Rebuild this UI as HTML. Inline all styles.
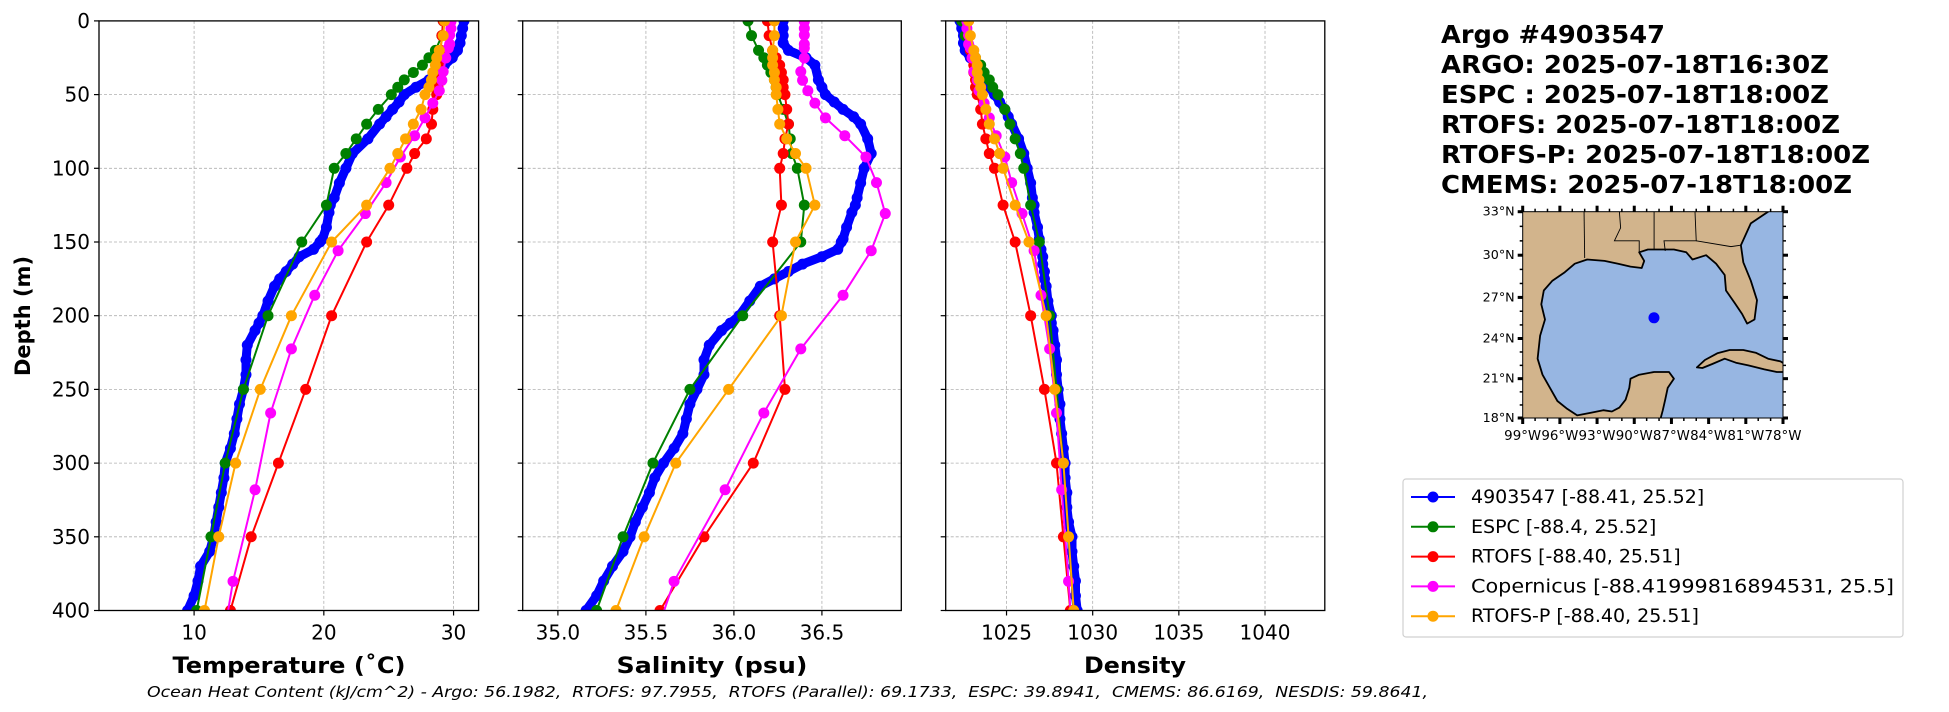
<!DOCTYPE html>
<html><head><meta charset="utf-8"><style>
html,body{margin:0;padding:0;background:#fff}
svg{display:block;font-family:"DejaVu Sans","Liberation Sans",sans-serif}
</style></head><body>
<svg id="fig" width="1949" height="712" viewBox="0 0 1949 712" xmlns="http://www.w3.org/2000/svg">
<rect width="1949" height="712" fill="#fff"/>
<g id="plots"></g>
<text x="23" y="316" font-size="21" font-weight="bold" text-anchor="middle" dominant-baseline="central" transform="rotate(-90 23 316)">Depth (m)</text>
<text x="289" y="673" font-size="22" font-weight="bold" text-anchor="middle" textLength="233" lengthAdjust="spacingAndGlyphs">Temperature (˚C)</text>
<text x="712" y="673" font-size="22" font-weight="bold" text-anchor="middle" textLength="191" lengthAdjust="spacingAndGlyphs">Salinity (psu)</text>
<text x="1135" y="673" font-size="22" font-weight="bold" text-anchor="middle" textLength="102" lengthAdjust="spacingAndGlyphs">Density</text>
<text x="147" y="697" font-size="15" font-style="italic" style="white-space:pre" textLength="1281" lengthAdjust="spacingAndGlyphs">Ocean Heat Content (kJ/cm^2) - Argo: 56.1982,  RTOFS: 97.7955,  RTOFS (Parallel): 69.1733,  ESPC: 39.8941,  CMEMS: 86.6169,  NESDIS: 59.8641,</text>
<g font-size="25" font-weight="bold">
<text x="1441" y="43" textLength="224" lengthAdjust="spacingAndGlyphs">Argo #4903547</text>
<text x="1441" y="73" textLength="388" lengthAdjust="spacingAndGlyphs">ARGO: 2025-07-18T16:30Z</text>
<text x="1441" y="103" textLength="388" lengthAdjust="spacingAndGlyphs" style="white-space:pre">ESPC : 2025-07-18T18:00Z</text>
<text x="1441" y="133" textLength="399" lengthAdjust="spacingAndGlyphs">RTOFS: 2025-07-18T18:00Z</text>
<text x="1441" y="163" textLength="429" lengthAdjust="spacingAndGlyphs">RTOFS-P: 2025-07-18T18:00Z</text>
<text x="1441" y="193" textLength="411" lengthAdjust="spacingAndGlyphs">CMEMS: 2025-07-18T18:00Z</text>
</g>
<g id="map"></g>
<g id="legend"></g>
</svg>
<script>
// ---------- data ----------
const depthTicks=[0,50,100,150,200,250,300,350,400];
const hycomDepths=[0,10,20,25,30,35,40,45,50,60,70,80,90,100,125,150,200,250,300,350,400];
const copDepths=[0.5,5.1,9.6,15.8,18.5,25.2,34.4,40.3,47.4,55.8,65.8,77.9,92.3,109.7,130.7,155.9,186.1,222.5,266.0,318.1,380.2,453.9];
const argoDepths=[0,5,10,15,20,25,30,40,45,50,55,60,65,70,80,90,100,110,120,125,130,140,148,150,155,160,165,170,175,180,190,200,205,210,220,230,240,250,260,270,280,290,300,310,320,330,340,350,360,370,380,390,400];
// Temperature
const argoTemp=[30.8,30.7,30.6,30.5,30.3,29.9,29.3,28.1,27.1,26.2,25.8,25.3,24.8,24.3,23.4,22.2,21.7,21.2,20.8,20.5,20.4,20.2,19.9,19.7,19.2,18.1,17.6,17.1,16.6,16.2,15.7,15.3,15.0,14.7,14.1,14.0,14.0,13.8,13.5,13.3,13.1,12.8,12.4,12.3,12.1,11.9,11.7,11.5,11.2,10.5,10.3,10.0,9.5];
const espcTemp=[29.2,29.1,28.6,28.1,27.6,26.9,26.2,25.7,25.2,24.2,23.3,22.5,21.7,20.8,20.2,18.3,15.7,13.8,12.4,11.3,10.2];
const rtofsTemp=[29.2,29.1,29.0,29.0,28.9,28.9,28.8,28.8,28.7,28.4,28.3,27.9,27.0,26.4,25.0,23.3,20.6,18.6,16.5,14.4,12.8];
const rtofspTemp=[29.3,29.2,28.9,28.7,28.6,28.4,28.3,28.1,27.8,27.5,26.9,26.3,25.7,25.1,23.3,20.6,17.5,15.1,13.2,11.9,10.8];
const copTemp=[29.8,29.8,29.7,29.7,29.6,29.4,29.2,29.1,28.9,28.4,27.8,27.0,25.9,24.8,23.2,21.1,19.3,17.5,15.9,14.7,13.0,11.6];
// Salinity
const argoSal=[36.28,36.28,36.28,36.28,36.31,36.41,36.46,36.48,36.50,36.52,36.57,36.62,36.68,36.72,36.76,36.78,36.74,36.72,36.70,36.69,36.67,36.64,36.62,36.61,36.59,36.50,36.39,36.31,36.23,36.15,36.09,36.03,35.98,35.93,35.86,35.83,35.83,35.79,35.75,35.73,35.71,35.66,35.60,35.55,35.52,35.48,35.44,35.41,35.37,35.31,35.26,35.22,35.16];
const espcSal=[36.08,36.10,36.14,36.17,36.19,36.21,36.23,36.24,36.25,36.28,36.31,36.32,36.33,36.36,36.40,36.38,36.05,35.75,35.54,35.37,35.22];
const rtofsSal=[36.19,36.20,36.22,36.24,36.26,36.27,36.28,36.28,36.29,36.30,36.31,36.29,36.28,36.26,36.27,36.22,36.26,36.29,36.11,35.83,35.58];
const rtofspSal=[36.23,36.23,36.22,36.22,36.22,36.23,36.23,36.24,36.24,36.25,36.26,36.30,36.35,36.41,36.46,36.35,36.27,35.97,35.67,35.49,35.33];
const copSal=[36.40,36.40,36.40,36.40,36.40,36.40,36.38,36.39,36.42,36.46,36.52,36.63,36.75,36.81,36.86,36.78,36.62,36.38,36.17,35.95,35.66,35.45];
// Density
const argoDen=[1022.3,1022.4,1022.5,1022.5,1022.6,1022.9,1023.3,1023.7,1024.0,1024.3,1024.6,1024.9,1025.1,1025.3,1025.7,1026.0,1026.2,1026.4,1026.5,1026.6,1026.6,1026.8,1026.9,1026.9,1027.0,1027.1,1027.1,1027.2,1027.2,1027.3,1027.4,1027.6,1027.6,1027.7,1027.8,1027.9,1027.9,1028.0,1028.1,1028.1,1028.2,1028.3,1028.4,1028.4,1028.5,1028.5,1028.6,1028.8,1028.8,1028.9,1029.0,1029.0,1029.1];
const espcDen=[1022.4,1022.6,1022.9,1023.2,1023.5,1023.7,1024.0,1024.2,1024.5,1024.9,1025.2,1025.5,1025.8,1026.0,1026.4,1026.9,1027.5,1027.9,1028.3,1028.6,1028.9];
const rtofsDen=[1022.8,1022.8,1022.9,1023.0,1023.1,1023.1,1023.2,1023.2,1023.3,1023.5,1023.6,1023.8,1024.0,1024.3,1024.8,1025.5,1026.4,1027.2,1027.9,1028.3,1028.7];
const rtofspDen=[1022.8,1022.9,1023.1,1023.2,1023.3,1023.3,1023.4,1023.5,1023.6,1023.8,1024.0,1024.3,1024.6,1024.8,1025.5,1026.3,1027.3,1027.8,1028.3,1028.6,1028.9];
const copDen=[1022.7,1022.7,1022.8,1022.8,1022.9,1023.0,1023.1,1023.3,1023.4,1023.7,1024.0,1024.4,1024.9,1025.3,1025.9,1026.6,1027.0,1027.5,1027.9,1028.2,1028.6,1029.0];
const tempTicks=[10,20,30];
const salTicks=[35.0,35.5,36.0,36.5];
const salTickLabels=["35.0","35.5","36.0","36.5"];
const denTicks=[1025,1030,1035,1040];
const legendLabels=["4903547 [-88.41, 25.52]","ESPC [-88.4, 25.52]","RTOFS [-88.40, 25.51]","Copernicus [-88.41999816894531, 25.5]","RTOFS-P [-88.40, 25.51]"];
const floatLon=-88.41, floatLat=25.52;

// ---------- drawing ----------
const NS="http://www.w3.org/2000/svg";
function mk(tag,attrs,parent){const e=document.createElementNS(NS,tag);for(const k in attrs)e.setAttribute(k,attrs[k]);parent.appendChild(e);return e;}
const TOP=20.9,BOT=610.5;
const yScale=d=>TOP+(d/400)*(BOT-TOP);
const plots=document.getElementById('plots');
const colors={argo:'#0000ff',espc:'#008000',rtofs:'#ff0000',cop:'#ff00ff',rtofsp:'#ffa500'};

function drawPanel(name,x0,x1,vmin,vmax,ticks,tickLabels,series,showY){
  const xs=v=>x0+(v-vmin)/(vmax-vmin)*(x1-x0);
  const g=mk('g',{},plots);
  
  
  const cid='clip-'+name;
  const cp=mk('clipPath',{id:cid},g);mk('rect',{x:x0,y:TOP,width:x1-x0,height:BOT-TOP},cp);
  depthTicks.forEach(d=>{const l=mk('line',{x1:x0,x2:x1,y1:yScale(d),y2:yScale(d),stroke:'#b0b0b0','stroke-width':0.8,'stroke-dasharray':'3,2'},g);
    });
  ticks.forEach(t=>{const l=mk('line',{x1:xs(t),x2:xs(t),y1:TOP,y2:BOT,stroke:'#b0b0b0','stroke-width':0.8,'stroke-dasharray':'3,2'},g);
    });
  const sg=mk('g',{'clip-path':'url(#'+cid+')'},g);
  series.forEach(s=>{
    const pts=s.depths.map((d,i)=>xs(s.vals[i]).toFixed(1)+','+yScale(d).toFixed(1)).join(' ');
    const pl=mk('polyline',{points:pts,fill:'none',stroke:s.color,'stroke-width':s.thick?9:2,'stroke-linejoin':'round','stroke-linecap':'round'},sg);
    
    
    s.depths.forEach((d,i)=>{const c=mk('circle',{cx:xs(s.vals[i]),cy:yScale(d),r:5.5,fill:s.color},sg);
      
      });
  });
  const fr=mk('rect',{x:x0,y:TOP,width:x1-x0,height:BOT-TOP,fill:'none',stroke:'#000','stroke-width':1.3},g);
  
  depthTicks.forEach(d=>{mk('line',{x1:x0-5,x2:x0,y1:yScale(d),y2:yScale(d),stroke:'#000','stroke-width':1.2},g);
    if(showY){const t=mk('text',{x:x0-9,y:yScale(d),'font-size':20,'text-anchor':'end','dominant-baseline':'central'},g);t.textContent=d;
      }});
  ticks.forEach((tv,i)=>{mk('line',{x1:xs(tv),x2:xs(tv),y1:BOT,y2:BOT+5,stroke:'#000','stroke-width':1.2},g);
    const t=mk('text',{x:xs(tv),y:BOT+29,'font-size':20,'text-anchor':'middle'},g);t.textContent=tickLabels[i];
    });
}
function ser(a,e,r,c,p){return [
  {key:'argo',depths:argoDepths,vals:a,color:colors.argo,thick:true},
  {key:'espc',depths:hycomDepths,vals:e,color:colors.espc},
  {key:'rtofs',depths:hycomDepths,vals:r,color:colors.rtofs},
  {key:'copernicus',depths:copDepths,vals:c,color:colors.cop},
  {key:'rtofsp',depths:hycomDepths,vals:p,color:colors.rtofsp}];}
drawPanel('temperature',99,478.6,2.67,31.93,tempTicks,tempTicks.map(String),ser(argoTemp,espcTemp,rtofsTemp,copTemp,rtofspTemp),true);
drawPanel('salinity',522.7,901.3,34.80,36.951,salTicks,salTickLabels,ser(argoSal,espcSal,rtofsSal,copSal,rtofspSal),false);
drawPanel('density',945.7,1324.8,1021.47,1043.47,denTicks,denTicks.map(String),ser(argoDen,espcDen,rtofsDen,copDen,rtofspDen),false);

// ---------- map ----------
const map=document.getElementById('map');
const MX0=1522.7,MX1=1783,MY0=211.7,MY1=418;
const merc=l=>Math.log(Math.tan(Math.PI/4+l*Math.PI/360));
const mx=lon=>MX0+(lon+99)/21*(MX1-MX0);
const my=lat=>MY1-(merc(lat)-merc(18))/(merc(33)-merc(18))*(MY1-MY0);
const mcp=mk('clipPath',{id:'mapclip'},map);mk('rect',{x:MX0,y:MY0,width:MX1-MX0,height:MY1-MY0},mcp);
const ocean=mk('rect',{x:MX0,y:MY0,width:MX1-MX0,height:MY1-MY0,fill:'#97b6e2'},map);

const mg=mk('g',{'clip-path':'url(#mapclip)'},map);
const landPolys={
 'map-land-north-america':[[-100,34],[-79.2,34],[-79.2,33],[-80.6,32.2],[-81.4,30.7],[-81.2,29.5],[-80.6,28.2],[-80.1,26.8],[-80.3,25.4],[-80.9,25.1],[-81.3,25.8],[-81.9,26.6],[-82.6,27.5],[-82.7,28.6],[-83.4,29.4],[-84.2,30.0],[-85.3,29.7],[-85.8,30.2],[-86.8,30.4],[-88.1,30.4],[-88.9,30.4],[-89.6,30.2],[-89.2,29.6],[-89.4,29.1],[-90.3,29.2],[-91.3,29.4],[-92.4,29.6],[-93.8,29.7],[-94.8,29.4],[-95.6,28.8],[-96.6,28.2],[-97.3,27.5],[-97.5,26.5],[-97.2,25.4],[-97.6,24.2],[-97.8,22.5],[-97.4,21.3],[-96.8,20.3],[-96.2,19.3],[-95.4,18.7],[-94.6,18.2],[-93.5,18.4],[-92.5,18.6],[-91.8,18.5],[-91.2,18.8],[-90.7,19.4],[-90.4,20.3],[-90.3,21.0],[-89.6,21.3],[-88.4,21.5],[-87.2,21.5],[-86.8,21.0],[-87.3,20.3],[-87.5,19.4],[-87.7,18.6],[-88.0,17.5],[-100,17.5]],
 'map-land-cuba':[[-84.95,21.85],[-84.3,22.4],[-83.3,22.9],[-82.3,23.15],[-81.2,23.15],[-80.2,22.95],[-79.2,22.5],[-78.2,22.3],[-77.5,21.9],[-77.5,21.5],[-78.5,21.5],[-79.5,21.7],[-80.8,22.0],[-81.8,22.2],[-82.7,22.5],[-83.7,22.1],[-84.5,21.8]]
};
for(const k in landPolys){
  const p=mk('polygon',{points:landPolys[k].map(q=>mx(q[0]).toFixed(1)+','+my(q[1]).toFixed(1)).join(' '),fill:'#d2b48c',stroke:'#000','stroke-width':1.8,'stroke-linejoin':'round'},mg);
  
}
const borders=[[[-94.05,33],[-94.0,29.8]],[[-91.2,33],[-91.1,31.9],[-91.6,31],[-89.6,31],[-89.6,30.2]],[[-88.4,33],[-88.4,30.4]],[[-85.1,33],[-85.0,31],[-87.6,31],[-87.5,30.3]],[[-85.0,31],[-82.2,30.6],[-81.4,30.7]]];
borders.forEach(b=>{const l=mk('polyline',{points:b.map(q=>mx(q[0])+','+my(q[1])).join(' '),fill:'none',stroke:'#000','stroke-width':0.9},mg);
  });
const fr=mk('rect',{x:MX0,y:MY0,width:MX1-MX0,height:MY1-MY0,fill:'none',stroke:'#000','stroke-width':1},map);

const dot=mk('circle',{cx:mx(floatLon),cy:my(floatLat),r:5.5,fill:'#0000ff'},map);

const lats=[33,30,27,24,21,18];
lats.forEach(l=>{mk('line',{x1:MX0-5,x2:MX0,y1:my(l),y2:my(l),stroke:'#000','stroke-width':3},map);
  mk('line',{x1:MX1,x2:MX1+5,y1:my(l),y2:my(l),stroke:'#000','stroke-width':3},map);
  const t=mk('text',{x:MX0-8,y:my(l),'font-size':12,'text-anchor':'end','dominant-baseline':'central',textLength:32,lengthAdjust:'spacingAndGlyphs'},map);t.textContent=l+'°N';
  });
for(let l=18;l<=33;l++){mk('line',{x1:MX0-3,x2:MX0,y1:my(l),y2:my(l),stroke:'#000','stroke-width':1.5},map);mk('line',{x1:MX1,x2:MX1+3,y1:my(l),y2:my(l),stroke:'#000','stroke-width':1.5},map);}
const lons=[-99,-96,-93,-90,-87,-84,-81,-78];
for(let l=-99;l<=-78;l++){const big=(l+99)%3===0;
  mk('line',{x1:mx(l),x2:mx(l),y1:MY1,y2:MY1+(big?6:3),stroke:'#000','stroke-width':big?3:1.5},map);
  mk('line',{x1:mx(l),x2:mx(l),y1:MY0-(big?6:3),y2:MY0,stroke:'#000','stroke-width':big?3:1.5},map);}
lons.forEach(l=>{const t=mk('text',{x:mx(l),y:MY1+22,'font-size':13,'text-anchor':'middle',textLength:37,lengthAdjust:'spacingAndGlyphs'},map);t.textContent=(-l)+'°W';
  });

// ---------- legend ----------
const lg=document.getElementById('legend');
const box=mk('rect',{x:1403,y:479,width:500,height:158,rx:3,fill:'#fff',stroke:'#d0d0d0','stroke-width':1.2},lg);

const lcol=[colors.argo,colors.espc,colors.rtofs,colors.cop,colors.rtofsp];
legendLabels.forEach((s,i)=>{const y=497+i*29.8;
  const e=mk('g',{},lg);
  
  mk('line',{x1:1411,x2:1455,y1:y,y2:y,stroke:lcol[i],'stroke-width':2},e);
  mk('circle',{cx:1433,cy:y,r:5.5,fill:lcol[i]},e);
  const t=mk('text',{x:1471,y:y,'font-size':19,'dominant-baseline':'central'},e);t.textContent=s;
  if(i===3){t.setAttribute('textLength',423);t.setAttribute('lengthAdjust','spacingAndGlyphs');}
});
</script>
</body></html>
